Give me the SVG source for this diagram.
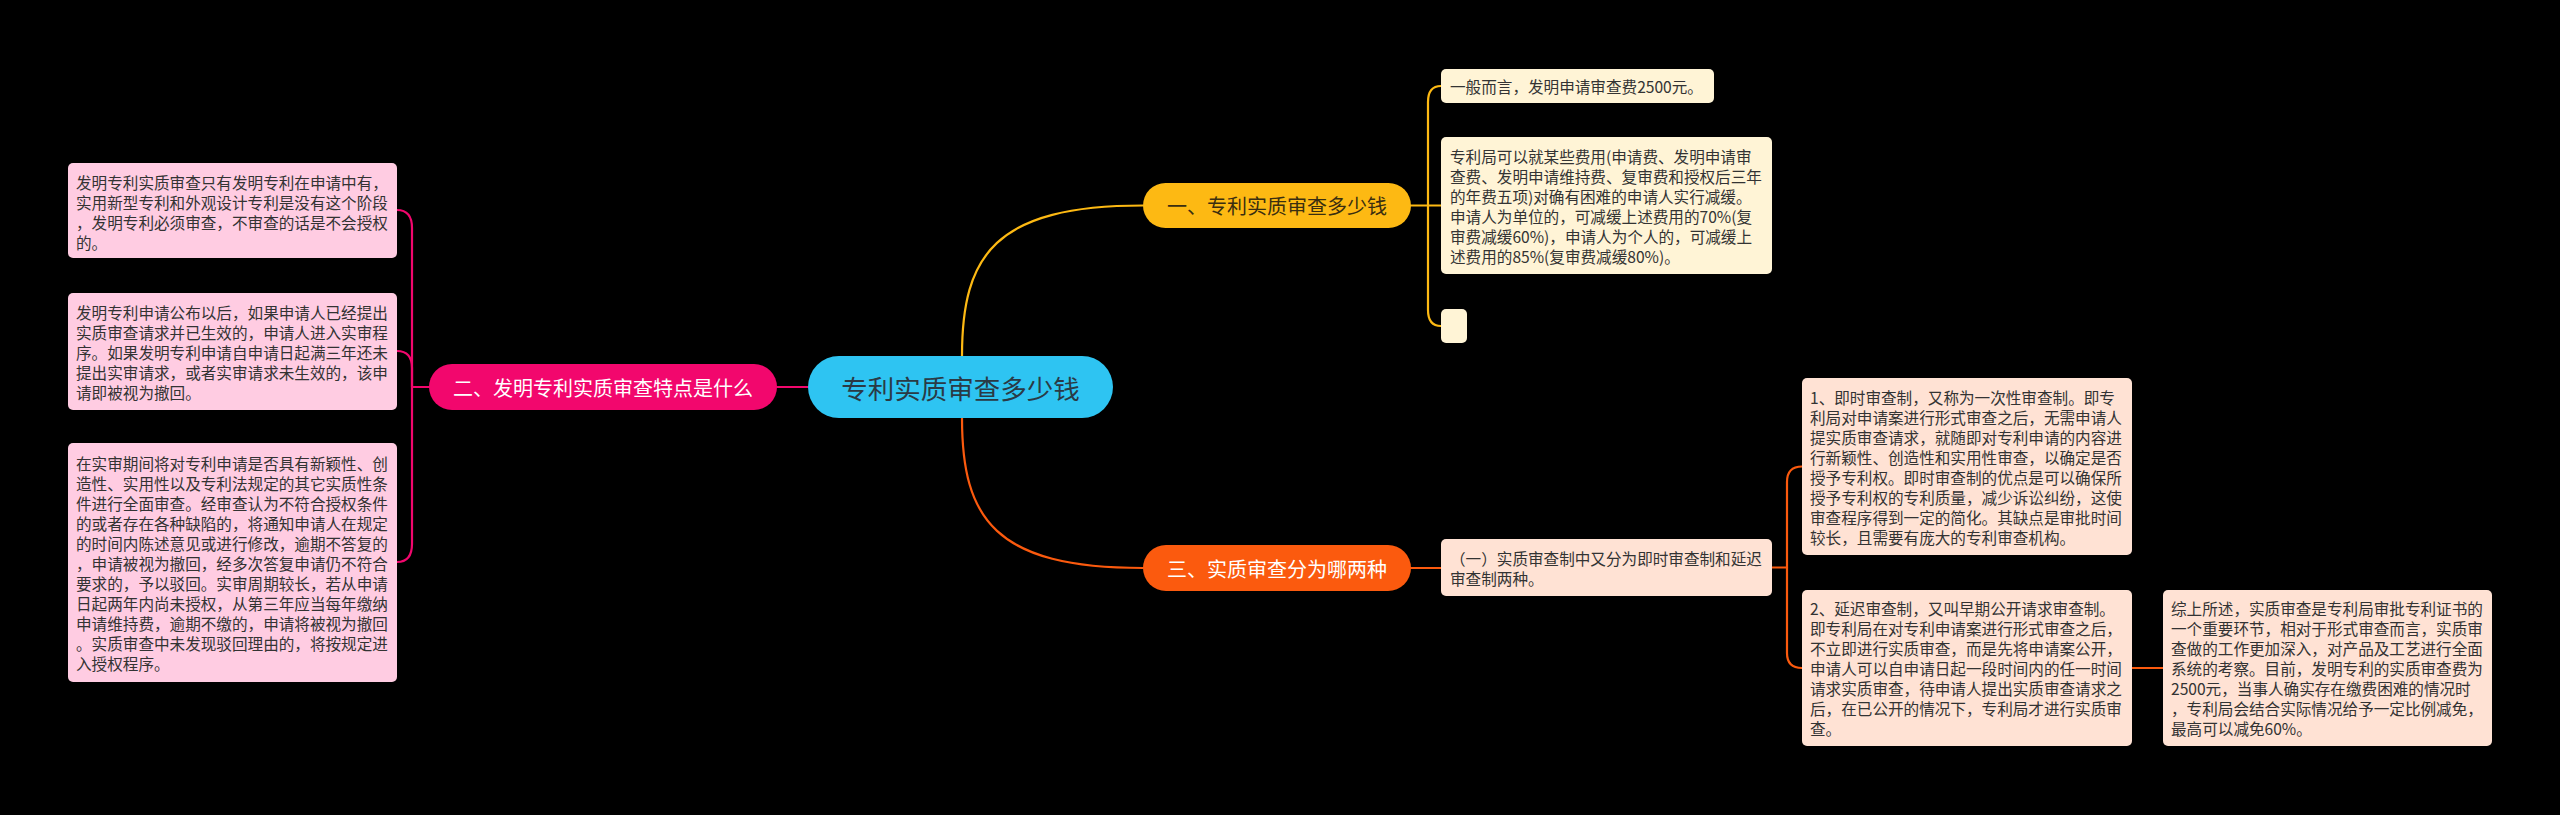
<svg xmlns="http://www.w3.org/2000/svg" width="2560" height="815" viewBox="0 0 2560 815">
<style>
text{font-family:"Noto Sans CJK SC","Noto Sans",sans-serif;dominant-baseline:central}
.t{font-size:15.6px;fill:#333333}
.main{font-size:20px;text-anchor:middle}
.c{fill:none;stroke-width:2.2;stroke-linecap:round}
.py{stroke:#FDB913}.pp{stroke:#F2076D}.po{stroke:#FB5A0E}
.by{fill:#FFF4D6}.bp{fill:#FFCCE2}.bo{fill:#FFE2D4}
</style>
<rect x="0" y="0" width="2560" height="815" fill="#000000"/>
<g id="connectors">
<path class="c pp" d="M777,387 H808"/>
<path class="c pp" d="M429,387 H412"/>
<path class="c pp" d="M412,387 V228 Q412,210 397,210"/>
<path class="c pp" d="M412,387 V368 Q412,351 397,351"/>
<path class="c pp" d="M412,387 V544 Q412,562 397,562"/>
<path class="c py" d="M962,356 C962,255 995,205.5 1143,205.5"/>
<path class="c py" d="M1411,205.5 H1441"/>
<path class="c py" d="M1428,205.5 V102 Q1428,86 1441,86"/>
<path class="c py" d="M1428,205.5 V310 Q1428,326 1441,326"/>
<path class="c po" d="M962,418 C962,519 995,568 1143,568"/>
<path class="c po" d="M1411,568 H1441"/>
<path class="c po" d="M1772,567.5 H1787"/>
<path class="c po" d="M1787,567.5 V482 Q1787,466.5 1802,466.5"/>
<path class="c po" d="M1787,567.5 V653 Q1787,668 1802,668"/>
<path class="c po" d="M2132,668 H2163"/>
</g>
<g id="root">
<rect x="808" y="356" width="305" height="62" rx="31" fill="#2EC4F2"/>
<text x="960.5" y="387" style="font-size:26.5px;text-anchor:middle;fill:#2A3A45">专利实质审查多少钱</text>
</g>
<g id="n1">
<rect x="1143" y="183" width="268" height="45" rx="22.5" fill="#FDB913"/>
<text class="main" x="1277" y="205.5" style="fill:#3A2E10">一、专利实质审查多少钱</text>
</g>
<g id="n2">
<rect x="429" y="364" width="348" height="46" rx="23" fill="#F2076D"/>
<text class="main" x="603" y="387" style="fill:#FFFFFF">二、发明专利实质审查特点是什么</text>
</g>
<g id="n3">
<rect x="1143" y="545" width="268" height="46" rx="23" fill="#FB5A0E"/>
<text class="main" x="1277" y="568" style="fill:#FFFFFF">三、实质审查分为哪两种</text>
</g>
<g id="n1a">
<rect class="by" x="1441" y="69" width="273" height="34" rx="5"/>
<text class="t" x="1450" y="86">一般而言，发明申请审查费2500元。</text>
</g>
<g id="n1b">
<rect class="by" x="1441" y="137" width="331" height="137" rx="5"/>
<text class="t" x="1450" y="155.5">专利局可以就某些费用(申请费、发明申请审</text>
<text class="t" x="1450" y="175.5">查费、发明申请维持费、复审费和授权后三年</text>
<text class="t" x="1450" y="195.5">的年费五项)对确有困难的申请人实行减缓。</text>
<text class="t" x="1450" y="215.5">申请人为单位的，可减缓上述费用的70%(复</text>
<text class="t" x="1450" y="235.5">审费减缓60%)，申请人为个人的，可减缓上</text>
<text class="t" x="1450" y="255.5">述费用的85%(复审费减缓80%)。</text>
</g>
<g id="n1c">
<rect class="by" x="1441" y="309" width="26" height="34" rx="5"/>
</g>
<g id="n2a">
<rect class="bp" x="68" y="163" width="329" height="95" rx="5"/>
<text class="t" x="76" y="181.5">发明专利实质审查只有发明专利在申请中有，</text>
<text class="t" x="76" y="201.5">实用新型专利和外观设计专利是没有这个阶段</text>
<text class="t" x="76" y="221.5">，发明专利必须审查，不审查的话是不会授权</text>
<text class="t" x="76" y="241.5">的。</text>
</g>
<g id="n2b">
<rect class="bp" x="68" y="293" width="329" height="117" rx="5"/>
<text class="t" x="76" y="311.5">发明专利申请公布以后，如果申请人已经提出</text>
<text class="t" x="76" y="331.5">实质审查请求并已生效的，申请人进入实审程</text>
<text class="t" x="76" y="351.5">序。如果发明专利申请自申请日起满三年还未</text>
<text class="t" x="76" y="371.5">提出实审请求，或者实审请求未生效的，该申</text>
<text class="t" x="76" y="391.5">请即被视为撤回。</text>
</g>
<g id="n2c">
<rect class="bp" x="68" y="443" width="329" height="239" rx="5"/>
<text class="t" x="76" y="463">在实审期间将对专利申请是否具有新颖性、创</text>
<text class="t" x="76" y="483">造性、实用性以及专利法规定的其它实质性条</text>
<text class="t" x="76" y="503">件进行全面审查。经审查认为不符合授权条件</text>
<text class="t" x="76" y="523">的或者存在各种缺陷的，将通知申请人在规定</text>
<text class="t" x="76" y="543">的时间内陈述意见或进行修改，逾期不答复的</text>
<text class="t" x="76" y="563">，申请被视为撤回，经多次答复申请仍不符合</text>
<text class="t" x="76" y="583">要求的，予以驳回。实审周期较长，若从申请</text>
<text class="t" x="76" y="603">日起两年内尚未授权，从第三年应当每年缴纳</text>
<text class="t" x="76" y="623">申请维持费，逾期不缴的，申请将被视为撤回</text>
<text class="t" x="76" y="643">。实质审查中未发现驳回理由的，将按规定进</text>
<text class="t" x="76" y="663">入授权程序。</text>
</g>
<g id="n3a">
<rect class="bo" x="1441" y="539" width="331" height="57" rx="5"/>
<text class="t" x="1450" y="557.5">（一）实质审查制中又分为即时审查制和延迟</text>
<text class="t" x="1450" y="577.5">审查制两种。</text>
</g>
<g id="n3b">
<rect class="bo" x="1802" y="378" width="330" height="177" rx="5"/>
<text class="t" x="1810" y="396.5">1、即时审查制，又称为一次性审查制。即专</text>
<text class="t" x="1810" y="416.5">利局对申请案进行形式审查之后，无需申请人</text>
<text class="t" x="1810" y="436.5">提实质审查请求，就随即对专利申请的内容进</text>
<text class="t" x="1810" y="456.5">行新颖性、创造性和实用性审查，以确定是否</text>
<text class="t" x="1810" y="476.5">授予专利权。即时审查制的优点是可以确保所</text>
<text class="t" x="1810" y="496.5">授予专利权的专利质量，减少诉讼纠纷，这使</text>
<text class="t" x="1810" y="516.5">审查程序得到一定的简化。其缺点是审批时间</text>
<text class="t" x="1810" y="536.5">较长，且需要有庞大的专利审查机构。</text>
</g>
<g id="n3c">
<rect class="bo" x="1802" y="590" width="330" height="156" rx="5"/>
<text class="t" x="1810" y="608">2、延迟审查制，又叫早期公开请求审查制。</text>
<text class="t" x="1810" y="628">即专利局在对专利申请案进行形式审查之后，</text>
<text class="t" x="1810" y="648">不立即进行实质审查，而是先将申请案公开，</text>
<text class="t" x="1810" y="668">申请人可以自申请日起一段时间内的任一时间</text>
<text class="t" x="1810" y="688">请求实质审查，待申请人提出实质审查请求之</text>
<text class="t" x="1810" y="708">后，在已公开的情况下，专利局才进行实质审</text>
<text class="t" x="1810" y="728">查。</text>
</g>
<g id="n3d">
<rect class="bo" x="2163" y="590" width="329" height="156" rx="5"/>
<text class="t" x="2171" y="608">综上所述，实质审查是专利局审批专利证书的</text>
<text class="t" x="2171" y="628">一个重要环节，相对于形式审查而言，实质审</text>
<text class="t" x="2171" y="648">查做的工作更加深入，对产品及工艺进行全面</text>
<text class="t" x="2171" y="668">系统的考察。目前，发明专利的实质审查费为</text>
<text class="t" x="2171" y="688">2500元，当事人确实存在缴费困难的情况时</text>
<text class="t" x="2171" y="708">，专利局会结合实际情况给予一定比例减免，</text>
<text class="t" x="2171" y="728">最高可以减免60%。</text>
</g>
</svg>
